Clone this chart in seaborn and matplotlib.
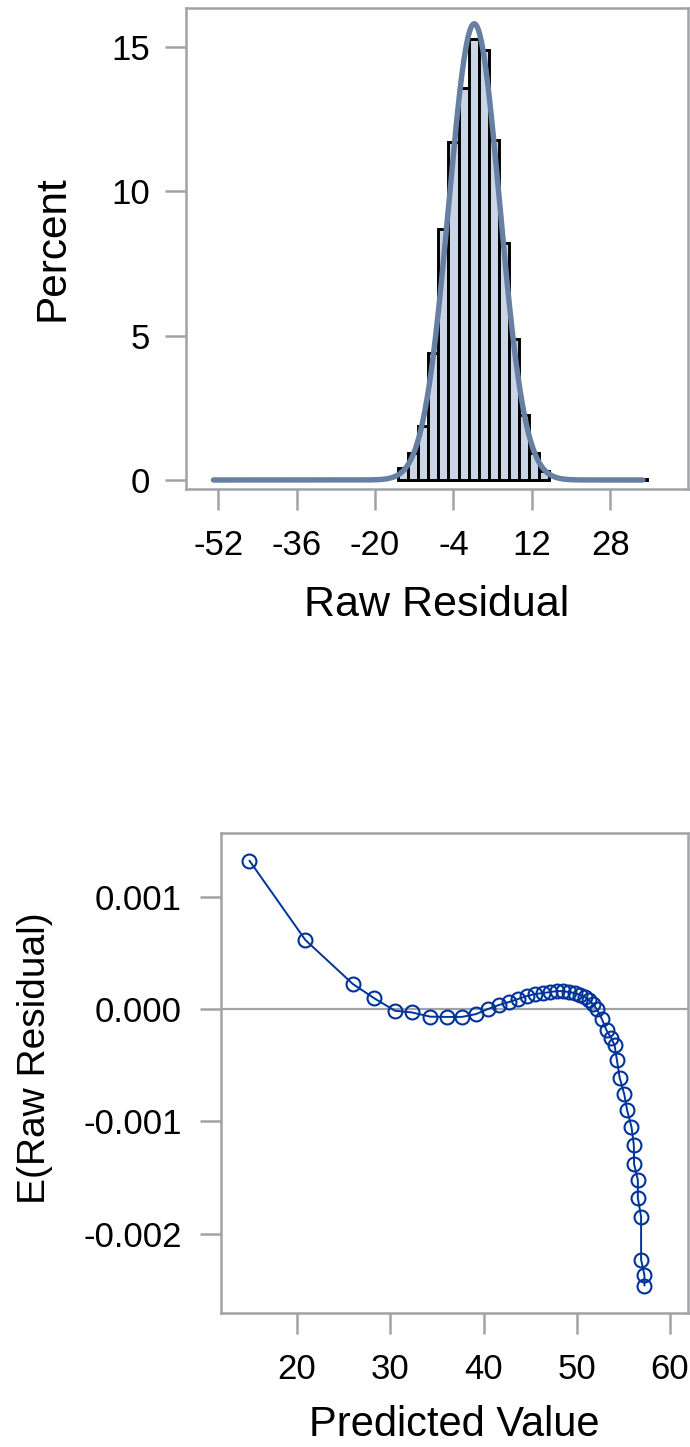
import numpy as np
import matplotlib
matplotlib.use("Agg")
import matplotlib.pyplot as plt
import seaborn as sns
from matplotlib.ticker import FormatStrFormatter

# ---------------- data ----------------
# Histogram of raw residuals (percent per bin)
BIN_START = -15.3
BIN_WIDTH = 2.057
HIST_PCT = [0.43, 0.92, 1.86, 4.4, 8.7, 11.7, 13.6, 15.3, 14.9, 11.8, 8.2, 4.9, 2.25, 0.92, 0.3]
OUTLIER_CENTERS = [-51.3, 34.5]
OUTLIER_PCT = [0.02, 0.02]
# Normal density overlay
NORM_MU = 0.25
NORM_SIGMA = 5.19
CURVE_RANGE = (-53.0, 34.7)
TOP_XTICKS = [-52, -36, -20, -4, 12, 28]
TOP_YTICKS = [0, 5, 10, 15]

# Expected raw residual vs predicted value
PRED = [14.9, 20.9, 26.0, 28.3, 30.5, 32.3, 34.3, 36.08, 37.68, 39.19, 40.47,
        41.65, 42.72, 43.69, 44.65, 45.5, 46.37, 47.12, 47.87, 48.51, 49.15,
        49.8, 50.33, 50.87, 51.3, 51.73, 52.15, 52.7, 53.2, 53.7, 54.05, 54.3,
        54.6, 55.1, 55.4, 55.87, 56.12, 56.15, 56.55, 56.55, 56.9, 56.9, 57.26,
        57.26]
ERES = [0.00132, 0.000614, 0.000222, 0.000095, -0.000015, -0.00003, -0.000068,
        -0.00007, -0.00007, -0.000045, 0.0, 0.000036, 0.000062, 0.000089,
        0.000116, 0.000133, 0.000142, 0.000151, 0.00016, 0.00016, 0.000151,
        0.000142, 0.000125, 0.000107, 0.00008, 0.000044, 0.0, -0.00009,
        -0.00019, -0.00026, -0.00032, -0.00045, -0.00061, -0.00076, -0.0009,
        -0.00105, -0.00121, -0.00138, -0.00152, -0.00168, -0.00185, -0.00223,
        -0.00237, -0.00246]
BOT_XTICKS = [20, 30, 40, 50, 60]
BOT_YTICKS = [0.001, 0.0, -0.001, -0.002]

# ---------------- style ----------------
sns.set_theme(style="white")
plt.rcParams["font.family"] = ["Liberation Sans", "DejaVu Sans"]
plt.rcParams["axes.unicode_minus"] = False
plt.rcParams["text.color"] = "black"
plt.rcParams["axes.labelcolor"] = "black"

GRAY = "#A0A4A8"
FILL = "#CAD5E5"
CURVE = "#667FA2"
BLUE = "#003399"

fig = plt.figure(figsize=(6.9, 14.47), dpi=100)

def style_axes(ax, pad_x, pad_y):
    for s in ax.spines.values():
        s.set_color(GRAY)
        s.set_linewidth(1.8)
    ax.tick_params(axis="both", which="major", direction="out", length=14.9,
                   width=1.8, color=GRAY, labelsize=25, labelcolor="black",
                   bottom=True, left=True)
    ax.tick_params(axis="x", pad=pad_x)
    ax.tick_params(axis="y", pad=pad_y)

# ---------------- top: histogram ----------------
ax1 = fig.add_axes([0.2696, 0.6621, 0.7275, 0.3324])
n_bins = len(HIST_PCT)
centers = [BIN_START + BIN_WIDTH * (i + 0.5) for i in range(n_bins)]
edges = [BIN_START + BIN_WIDTH * i for i in range(n_bins + 1)]
sns.histplot(x=centers, weights=HIST_PCT, bins=edges, stat="count",
             color=FILL, edgecolor="black", linewidth=2.1, alpha=1, ax=ax1)
for c, p in zip(OUTLIER_CENTERS, OUTLIER_PCT):
    sns.histplot(x=[c], weights=[p], binwidth=BIN_WIDTH,
                 binrange=(c - BIN_WIDTH / 2, c + BIN_WIDTH / 2), stat="count",
                 color=FILL, edgecolor="black", linewidth=2.1, alpha=1, ax=ax1)
xs = np.linspace(CURVE_RANGE[0], CURVE_RANGE[1], 600)
ys = 100 * BIN_WIDTH * np.exp(-0.5 * ((xs - NORM_MU) / NORM_SIGMA) ** 2) / (NORM_SIGMA * np.sqrt(2 * np.pi))
sns.lineplot(x=xs, y=ys, color=CURVE, linewidth=3.9, ax=ax1, zorder=5)
ax1.set_xlim(-58.6, 43.9)
ax1.set_ylim(-0.31, 16.36)
ax1.set_xticks(TOP_XTICKS)
ax1.set_yticks(TOP_YTICKS)
style_axes(ax1, 14, 11)
ax1.set_xlabel("Raw Residual", fontsize=31, va="center", color="black")
ax1.set_ylabel("Percent", fontsize=30.5, va="center", color="black")
ax1.xaxis.set_label_coords(0.5, -0.241)
ax1.yaxis.set_label_coords(-0.266, 0.5)

# ---------------- bottom: E(residual) ----------------
ax2 = fig.add_axes([0.3199, 0.0928, 0.6772, 0.3315])
ax2.axhline(0, color=GRAY, linewidth=1.6, zorder=1)
sns.lineplot(x=PRED, y=ERES, sort=False, estimator=None, color=BLUE,
             linewidth=1.4, marker="o", markersize=10, markerfacecolor="none",
             markeredgecolor=BLUE, markeredgewidth=1.5, ax=ax2, zorder=3)
ax2.set_xlim(11.82, 61.93)
ax2.set_ylim(-0.002702, 0.001566)
ax2.set_xticks(BOT_XTICKS)
ax2.set_yticks(BOT_YTICKS)
ax2.yaxis.set_major_formatter(FormatStrFormatter("%.3f"))
style_axes(ax2, 14, 13)
ax2.set_xlabel("Predicted Value", fontsize=30, va="center", color="black")
ax2.set_ylabel("E(Raw Residual)", fontsize=28, va="center", color="black")
ax2.xaxis.set_label_coords(0.5, -0.234)
ax2.yaxis.set_label_coords(-0.397, 0.53)

fig.savefig("out.png", dpi=100)
